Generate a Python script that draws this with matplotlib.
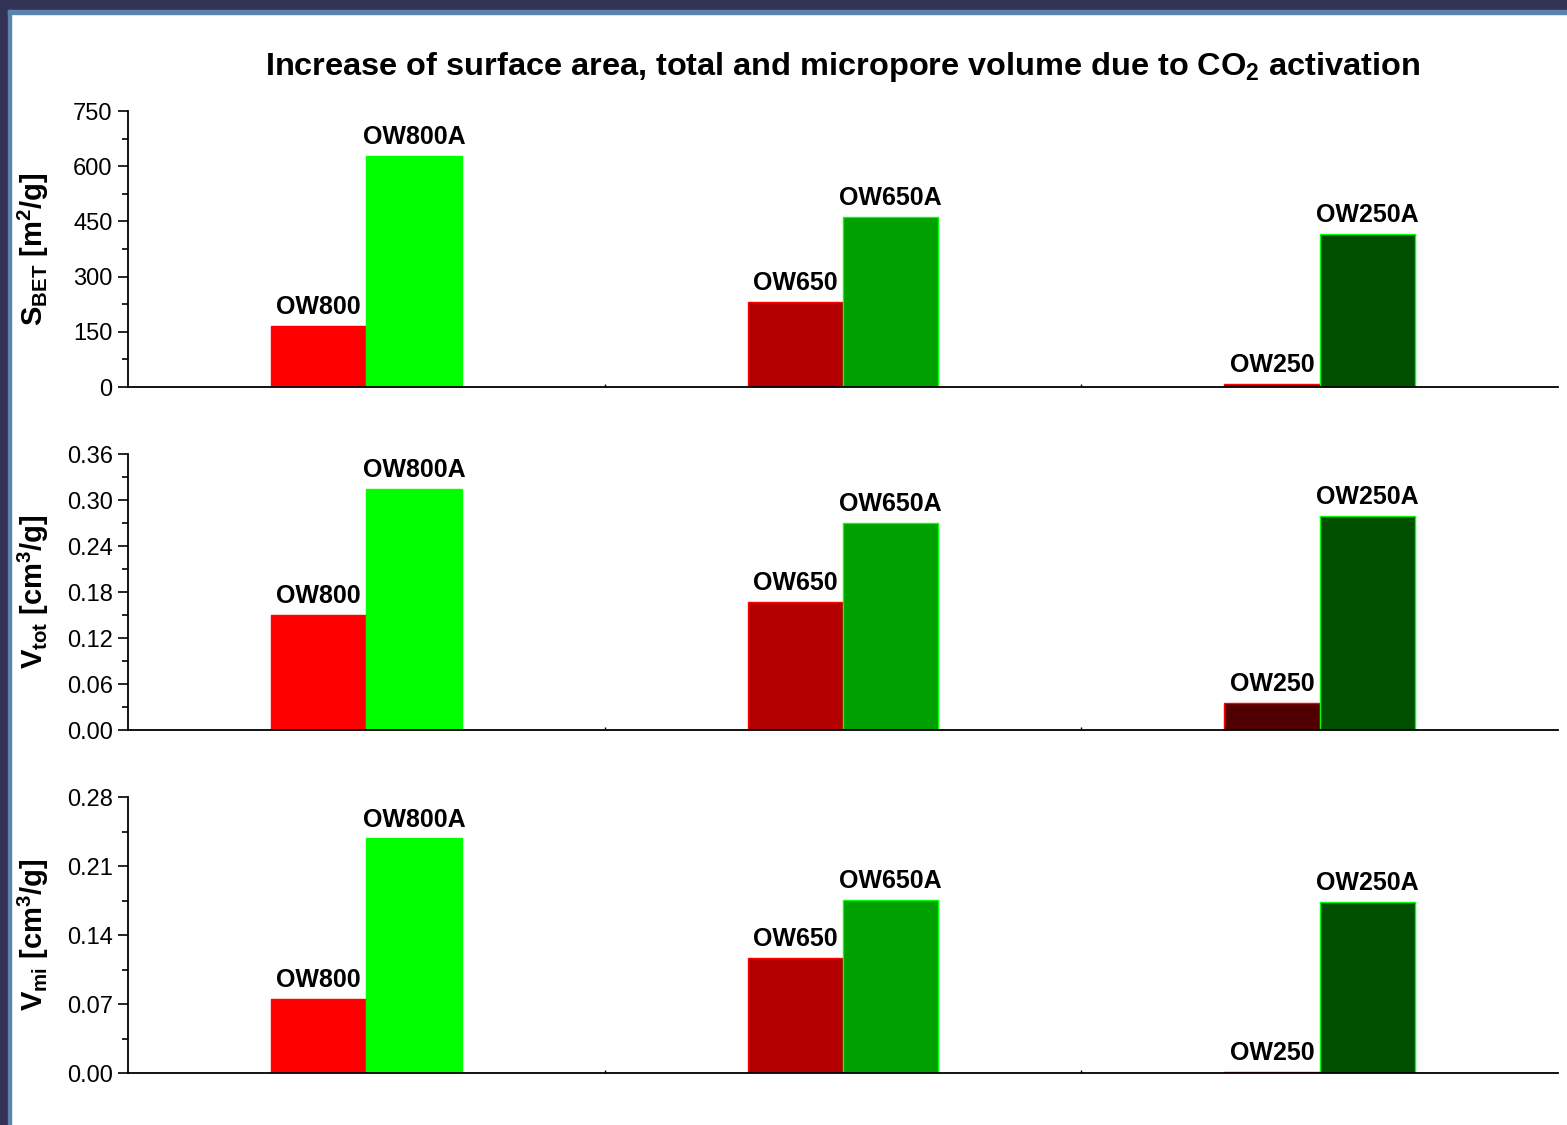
import numpy as np
import matplotlib
matplotlib.use('Agg')
import matplotlib.pyplot as plt
from matplotlib.patches import Rectangle
from matplotlib.ticker import MultipleLocator, AutoMinorLocator

plt.rcParams['font.family'] = ['Liberation Sans', 'DejaVu Sans']
plt.rcParams['mathtext.fontset'] = 'custom'
plt.rcParams['mathtext.rm'] = 'Liberation Sans:bold'
plt.rcParams['mathtext.bf'] = 'Liberation Sans:bold'
plt.rcParams['mathtext.it'] = 'Liberation Sans:bold'

## data
groups     = [1, 2, 3]
raw_names  = ['OW800', 'OW650', 'OW250']
act_names  = ['OW800A', 'OW650A', 'OW250A']
raw_colors = ['#ff0000', '#b40000', '#500000']
act_colors = ['#00ff00', '#009f00', '#005000']

sbet_raw = [166, 231, 8]
sbet_act = [628, 462, 416]
vtot_raw = [0.150, 0.167, 0.035]
vtot_act = [0.314, 0.270, 0.279]
vmi_raw  = [0.0755, 0.117, 0.001]
vmi_act  = [0.238, 0.176, 0.174]

ylabels  = [r'S$_{\mathbf{BET}}$ [m$^{\mathbf{2}}$/g]',
            r'V$_{\mathbf{tot}}$ [cm$^{\mathbf{3}}$/g]',
            r'V$_{\mathbf{mi}}$ [cm$^{\mathbf{3}}$/g]']
ymax     = [750, 0.36, 0.28]
ystep    = [150, 0.06, 0.07]
yfmt     = ['%d', '%.2f', '%.2f']
raw_vals = [sbet_raw, vtot_raw, vmi_raw]
act_vals = [sbet_act, vtot_act, vmi_act]

fig = plt.figure(figsize=(15.67, 11.25), dpi=100)

# dark frame round the picture
fig.patches.append(Rectangle((0, 0.991), 1, 0.009, transform=fig.transFigure, color='#333355', zorder=-5))
fig.patches.append(Rectangle((0, 0), 0.005, 1, transform=fig.transFigure, color='#333355', zorder=-5))
fig.patches.append(Rectangle((0.005, 0), 0.002, 0.991, transform=fig.transFigure, color='#5b84ad', zorder=-4))
fig.patches.append(Rectangle((0.005, 0.988), 0.995, 0.003, transform=fig.transFigure, color='#5b84ad', zorder=-4))

bottoms = [0.656, 0.3511, 0.0462]
w = 0.2
for i in range(3):
	ax = fig.add_axes([0.0817, bottoms[i], 0.9126, 0.2453])
	x = np.array(groups)
	b1 = ax.bar(x - w/2, raw_vals[i], w, color=raw_colors, edgecolor='#ff0000', linewidth=1)
	b2 = ax.bar(x + w/2, act_vals[i], w, color=act_colors, edgecolor='#00ff00', linewidth=1)
	ax.bar_label(b1, labels=raw_names, padding=5, fontsize=18, fontweight='bold')
	ax.bar_label(b2, labels=act_names, padding=5, fontsize=18, fontweight='bold')

	ax.set_xlim(0.5, 3.5)
	ax.set_ylim(0, ymax[i])
	ax.yaxis.set_major_locator(MultipleLocator(ystep[i]))
	ax.yaxis.set_minor_locator(AutoMinorLocator(2))
	ax.yaxis.set_major_formatter(plt.FormatStrFormatter(yfmt[i]))
	ax.set_xticks([1.5, 2.5])
	ax.set_xticklabels([])
	ax.tick_params(axis='x', length=2, width=1, direction='in')
	ax.tick_params(axis='y', which='major', length=7, width=1.2, labelsize=17, pad=4)
	ax.tick_params(axis='y', which='minor', length=4, width=1.2)
	for s in ['top', 'right']:
		ax.spines[s].set_visible(False)
	for s in ['left', 'bottom']:
		ax.spines[s].set_linewidth(1.3)
	ax.set_ylabel(ylabels[i], fontsize=21, fontweight='bold')
	ax.yaxis.set_label_coords(-0.054, 0.5)

fig.suptitle(r'Increase of surface area, total and micropore volume due to CO$_{\mathbf{2}}$ activation',
	fontsize=23.4, fontweight='bold', x=0.538, y=0.956)

fig.savefig('out.png', dpi=100, facecolor='white')
